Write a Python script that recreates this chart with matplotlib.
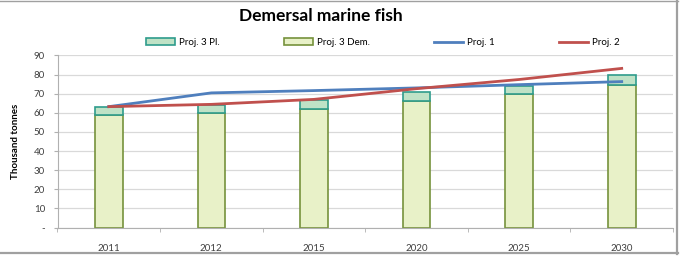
import matplotlib
matplotlib.use("Agg")
import matplotlib.pyplot as plt
import numpy as np
from matplotlib.patches import Rectangle
from matplotlib.lines import Line2D

years = ["2011", "2012", "2015", "2020", "2025", "2030"]
proj3_dem = [58.9, 59.8, 62.1, 66.0, 69.8, 74.6]
proj3_total = [63.2, 64.0, 66.7, 71.1, 74.2, 79.8]
proj3_pl = [t - d for t, d in zip(proj3_total, proj3_dem)]
proj1 = [63.2, 70.4, 71.6, 73.0, 74.7, 76.3]
proj2 = [63.2, 64.4, 67.0, 72.6, 77.4, 83.2]
yticks = [0, 10, 20, 30, 40, 50, 60, 70, 80, 90]
ytick_labels = ["-", "10", "20", "30", "40", "50", "60", "70", "80", "90"]

plt.rcParams['font.family'] = ['Lato', 'DejaVu Sans']

W, H = 681, 257
fig = plt.figure(figsize=(W / 100, H / 100), dpi=100)
ax = fig.add_axes([57.5 / W, 1 - 227.5 / H, (673 - 57.5) / W, (227.5 - 55.4) / H])

x = np.arange(len(years))
bw = 0.27
dem_face = "#e8f1c8"
dem_edge = "#76923c"
pl_face = "#bfe2c6"
pl_edge = "#2e9c8c"
tick_col = "#404040"

ax.bar(x, proj3_dem, width=bw, color=dem_face, edgecolor=dem_edge, linewidth=1.2, zorder=2,
       label="Proj. 3 Dem.")
ax.bar(x, proj3_pl, bottom=proj3_dem, width=bw, color=pl_face, edgecolor=pl_edge, linewidth=1.2,
       zorder=2, label="Proj. 3 Pl.")
ax.plot(x, proj1, color="#4f7fbd", linewidth=2.0, zorder=3, label="Proj. 1")
ax.plot(x, proj2, color="#c0504d", linewidth=2.0, zorder=3, label="Proj. 2")

ax.set_xlim(-0.5, len(years) - 0.5)
ax.set_ylim(0, 90)
ax.set_yticks(yticks)
ax.set_yticklabels(ytick_labels)
ax.set_xticks(x)
ax.set_xticklabels(years)
ax.set_xticks(np.arange(len(years) + 1) - 0.5, minor=True)
ax.tick_params(axis='x', which='major', length=0, pad=12, labelsize=7, labelcolor=tick_col)
ax.tick_params(axis='x', which='minor', length=3, color="#b0b0b0", direction='out')
ax.tick_params(axis='y', length=3, color="#b0b0b0", labelsize=7, labelcolor=tick_col, pad=6)
ax.yaxis.grid(True, color="#d9d9d9", linewidth=0.9, zorder=0)
ax.set_axisbelow(True)
for s in ["top", "right"]:
    ax.spines[s].set_visible(False)
ax.spines["left"].set_color("#b0b0b0")
ax.spines["bottom"].set_color("#b0b0b0")

ax.set_ylabel("Thousand tonnes", fontsize=7, fontweight="bold", labelpad=10)

fig.text(321 / W, 1 - 16 / H, "Demersal marine fish", ha="center", va="center",
         fontsize=12.5, fontweight="bold")

handles = [Rectangle((0, 0), 1, 1, facecolor=pl_face, edgecolor=pl_edge, linewidth=1.2),
           Rectangle((0, 0), 1, 1, facecolor=dem_face, edgecolor=dem_edge, linewidth=1.2),
           Line2D([], [], color="#4f7fbd", linewidth=2.0),
           Line2D([], [], color="#c0504d", linewidth=2.0)]
labels = ["Proj. 3 Pl.", "Proj. 3 Dem.", "Proj. 1", "Proj. 2"]
fig.legend(handles, labels, ncol=4, loc="center left", bbox_to_anchor=(146 / W, 1 - 42.6 / H),
           frameon=False, fontsize=7, handlelength=3.0, handleheight=0.7, handletextpad=0.4,
           columnspacing=6.6, borderaxespad=0, borderpad=0)

border = "#a0a0a0"
fig.add_artist(Line2D([0, 678 / W], [1 - 0.5 / H, 1 - 0.5 / H], transform=fig.transFigure,
                      color=border, linewidth=1.0))
fig.add_artist(Line2D([677 / W, 677 / W], [1, 1 - 254 / H], transform=fig.transFigure,
                      color=border, linewidth=1.6))
fig.add_artist(Line2D([0, 678 / W], [1 - 253 / H, 1 - 253 / H], transform=fig.transFigure,
                      color=border, linewidth=1.6))

fig.savefig("out.png", dpi=100)
